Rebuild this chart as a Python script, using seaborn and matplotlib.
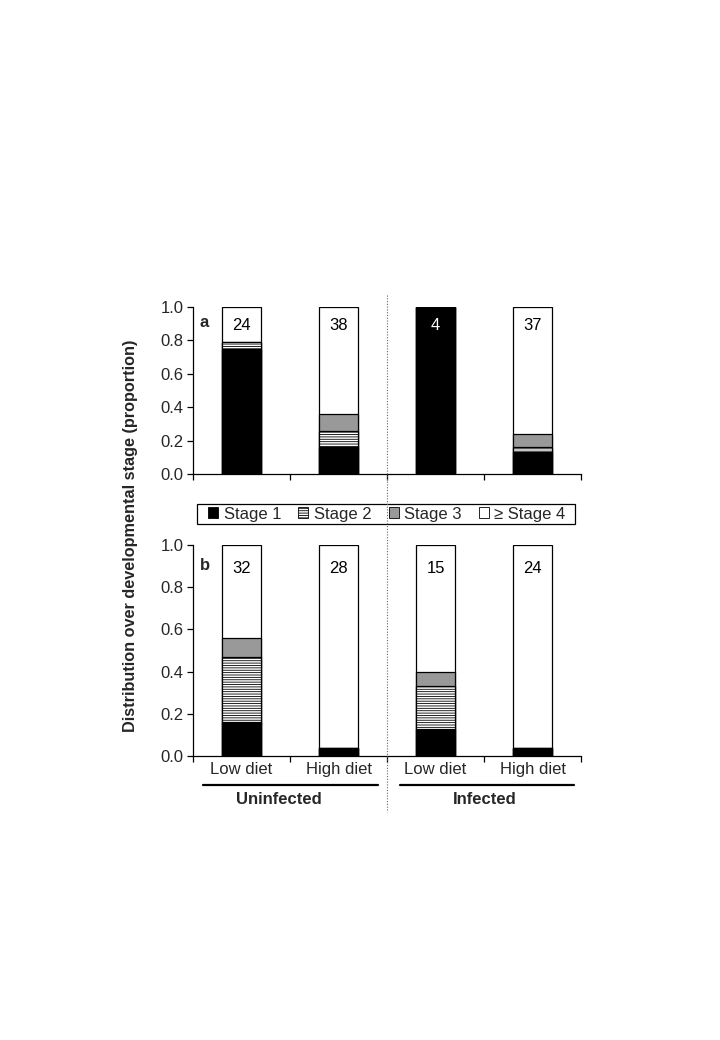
import matplotlib
matplotlib.use("Agg")
import matplotlib.pyplot as plt
import matplotlib.transforms as mtransforms
from matplotlib.patches import Patch, Rectangle
from matplotlib.lines import Line2D
import seaborn as sns
import numpy as np

# ---------------- data ----------------
groups = ["U-Low", "U-High", "I-Low", "I-High"]
diet_labels = ["Low diet", "High diet", "Low diet", "High diet"]
infection_labels = ["Uninfected", "Infected"]
stage_labels = ["Stage 1", "Stage 2", "Stage 3", "\u2265 Stage 4"]
yticks = [0.0, 0.2, 0.4, 0.6, 0.8, 1.0]

a_stage1 = [0.75, 0.16, 1.00, 0.13]
a_stage2 = [0.04, 0.10, 0.00, 0.03]
a_stage3 = [0.00, 0.10, 0.00, 0.08]
a_stage4 = [0.21, 0.64, 0.00, 0.76]
a_n = [24, 38, 4, 37]

b_stage1 = [0.16, 0.04, 0.13, 0.04]
b_stage2 = [0.31, 0.00, 0.20, 0.00]
b_stage3 = [0.09, 0.00, 0.07, 0.00]
b_stage4 = [0.44, 0.96, 0.60, 0.96]
b_n = [32, 28, 15, 24]

# ---------------- style ----------------
sns.set_style("ticks")
plt.rcParams["font.family"] = ["Liberation Sans", "DejaVu Sans"]
plt.rcParams["hatch.linewidth"] = 0.6
FS = 12

HATCH = "-------"
styles = [  # (facecolor, hatch) for stage 1..4
    ("black", None),
    ("white", HATCH),
    ("#999999", None),
    ("white", None),
]

fig = plt.figure(figsize=(7.2, 10.4), dpi=100)
L, R = 193 / 720, 581 / 720
ax_a = fig.add_axes([L, 1 - 474 / 1040, R - L, 167 / 1040])
ax_b = fig.add_axes([L, 1 - 756 / 1040, R - L, 211 / 1040])


def draw_panel(ax, s1, s2, s3, s4, ns, letter, show_xlabels):
    parts = [np.array(s1), np.array(s2), np.array(s3), np.array(s4)]
    cums = np.cumsum(parts, axis=0)
    for k in [3, 2, 1, 0]:
        fc, hatch = styles[k]
        kw = {}
        if hatch:
            kw["hatch"] = hatch
        sns.barplot(x=groups, y=cums[k], order=groups, color=fc, saturation=1,
                    edgecolor="black", linewidth=0.9, width=0.41,
                    errorbar=None, ax=ax, **kw)
    for i, n in enumerate(ns):
        col = "white" if parts[0][i] > 0.95 else "black"
        ax.text(i, 0.89, str(n), ha="center", va="center",
                fontsize=FS, color=col)
    ax.text(0.018, 0.905, letter, transform=ax.transAxes, ha="left",
            va="center", fontsize=FS, fontweight="bold")
    ax.set_xlim(-0.5, 3.5)
    ax.set_ylim(0, 1.0)
    ax.set_yticks(yticks)
    ax.set_yticklabels([f"{t:.1f}" for t in yticks], fontsize=FS)
    ax.set_xticks([-0.5, 0.5, 1.5, 2.5, 3.5])
    ax.set_xticklabels([])
    ax.set_xticks([0, 1, 2, 3], minor=True)
    if show_xlabels:
        ax.set_xticklabels(diet_labels, minor=True, fontsize=FS)
    else:
        ax.set_xticklabels([], minor=True)
    ax.tick_params(axis="x", which="minor", length=0, pad=4)
    ax.tick_params(axis="both", which="major", length=4, width=0.9,
                   direction="out", color="black", pad=3)
    ax.set_xlabel("")
    ax.set_ylabel("")
    for sp in ["top", "right"]:
        ax.spines[sp].set_visible(False)
    for sp in ["left", "bottom"]:
        ax.spines[sp].set_linewidth(0.9)
        ax.spines[sp].set_color("black")


draw_panel(ax_a, a_stage1, a_stage2, a_stage3, a_stage4, a_n, "a", False)
draw_panel(ax_b, b_stage1, b_stage2, b_stage3, b_stage4, b_n, "b", True)

# group underlines and labels
trans = mtransforms.blended_transform_factory(ax_b.transData, ax_b.transAxes)
for (x0, x1), xc, lab in zip([(-0.4, 1.41), (1.63, 3.43)], [0.39, 2.51],
                             infection_labels):
    ax_b.add_line(Line2D([x0, x1], [-0.137, -0.137], transform=trans,
                         color="black", linewidth=1.6, clip_on=False))
    ax_b.text(xc, -0.207, lab, transform=trans, ha="center", va="center",
              fontsize=FS, fontweight="bold")

# dotted separator
fig.add_artist(Line2D([387 / 720, 387 / 720], [1 - 295 / 1040, 1 - 812 / 1040],
                      transform=fig.transFigure, color="#666666",
                      linestyle=(0, (1, 1.5)), linewidth=0.8))

# legend (frame drawn separately for exact box)
fig.add_artist(Rectangle((197 / 720, 1 - 524 / 1040), 378 / 720, 20 / 1040,
                         transform=fig.transFigure, facecolor="white",
                         edgecolor="black", linewidth=0.9, zorder=1))
handles = [Patch(facecolor=fc, edgecolor="black", hatch=h, linewidth=0.6)
           for fc, h in styles]
leg = fig.legend(handles, stage_labels, loc="center",
                 bbox_to_anchor=(387 / 720, 1 - 514 / 1040), ncol=4,
                 frameon=False, handlelength=0.6, handleheight=0.6,
                 handletextpad=0.35, columnspacing=1.0, borderpad=0,
                 borderaxespad=0, fontsize=FS)
leg.set_zorder(2)

# y label
fig.text(131 / 720, 1 - 536 / 1040,
         "Distribution over developmental stage (proportion)",
         rotation=90, ha="center", va="center", fontsize=11.7,
         fontweight="bold")

fig.savefig("out.png", dpi=100, facecolor="white")
